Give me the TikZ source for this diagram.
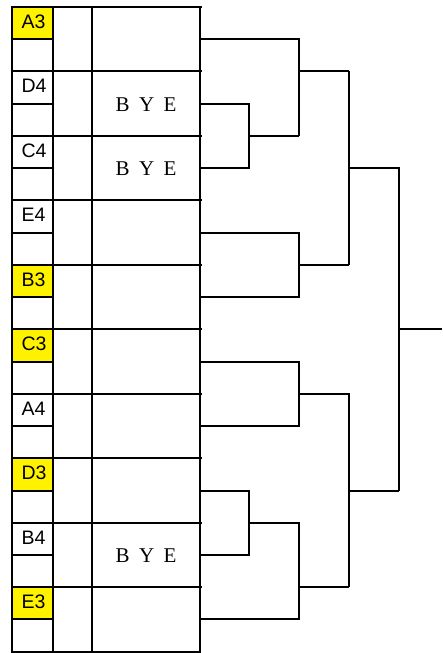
\documentclass[tikz,border=0pt]{standalone}
\usepackage{fontspec}
\usetikzlibrary{calc}
\setmainfont{Liberation Serif}
\newfontfamily\labfont{Liberation Sans}
\begin{document}
\begin{tikzpicture}[x=1pt,y=-1pt,line width=2pt,
  gridline/.style={draw=black,line width=2pt},
  bracket/.style={draw=black,line width=2pt},
  seedfill/.style={fill=yellow,draw=none},
  lab/.style={anchor=base west,inner sep=0pt,font=\labfont\fontsize{19.5}{19.5}\selectfont},
  byetext/.style={anchor=base,inner sep=0pt,font=\fontsize{21}{21}\selectfont}]
\useasboundingbox (0,0) rectangle (442,653);
\def\H{32.235}
% named coordinates: columns at half-row k (snapped to whole pixels)
\foreach \k in {0,...,20}{
  \pgfmathsetmacro{\yy}{round(7+\k*\H)}
  \foreach \n/\xx in {a/200,b/249,c/299,d/349,e/399,f/442,g/12,h/53,i/92,j/202}{
    \coordinate (\n\k) at (\xx,\yy);
  }
}
% yellow seed cells
\foreach \e in {0,4,5,7,9}{
  \pgfmathtruncatemacro{\t}{2*\e}
  \pgfmathtruncatemacro{\m}{2*\e+1}
  \fill[seedfill] (g\t) rectangle (h\m);
}
% grid
\draw[gridline] (g0) rectangle (a20);
\draw[gridline] (h0) -- (h20);
\draw[gridline] (i0) -- (i20);
\foreach \e in {1,...,9}{
  \pgfmathtruncatemacro{\t}{2*\e}
  \draw[gridline] (g\t) -- (j\t);
}
\draw[gridline] (a0) -- (j0);
\foreach \e in {0,...,9}{
  \pgfmathtruncatemacro{\m}{2*\e+1}
  \draw[gridline] (g\m) -- (h\m);
}
% labels
\foreach \lbl [count=\c from 0] in {A3,D4,C4,E4,B3,C3,A4,D3,B4,E3}{
  \pgfmathtruncatemacro{\t}{2*\c}
  \node[lab] (lab\c) at ($(g\t)+(8.5,21.5)$) {\lbl};
}
% BYE
\node[byetext] (bye1) at ($(i3)!0.5!(a3)+(0,7.5)$) {B\hspace{9.5pt}Y\hspace{9.5pt}E};
\node[byetext] (bye2) at ($(i5)!0.5!(a5)+(0,7.5)$) {B\hspace{9.5pt}Y\hspace{9.5pt}E};
\node[byetext] (bye3) at ($(i17)!0.5!(a17)+(0,7.5)$) {B\hspace{9.5pt}Y\hspace{9.5pt}E};
% bracket
\draw[bracket] (a1) -- (c1) -- (c4);
\draw[bracket] (a3) -- (b3) -- (b5) -- (a5);
\draw[bracket] (b4) -- (c4);
\draw[bracket] (c2) -- (d2);
\draw[bracket] (a7) -- (c7) -- (c9) -- (a9);
\draw[bracket] (c8) -- (d8);
\draw[bracket] (d2) -- (d8);
\draw[bracket] (d5) -- (e5) -- (e15);
\draw[bracket] (e10) -- (f10);
\draw[bracket] (a11) -- (c11) -- (c13) -- (a13);
\draw[bracket] (c12) -- (d12) -- (d18);
\draw[bracket] (d15) -- (e15);
\draw[bracket] (a15) -- (b15) -- (b17) -- (a17);
\draw[bracket] (b16) -- (c16) -- (c19) -- (a19);
\draw[bracket] (c18) -- (d18);
\end{tikzpicture}
\end{document}
